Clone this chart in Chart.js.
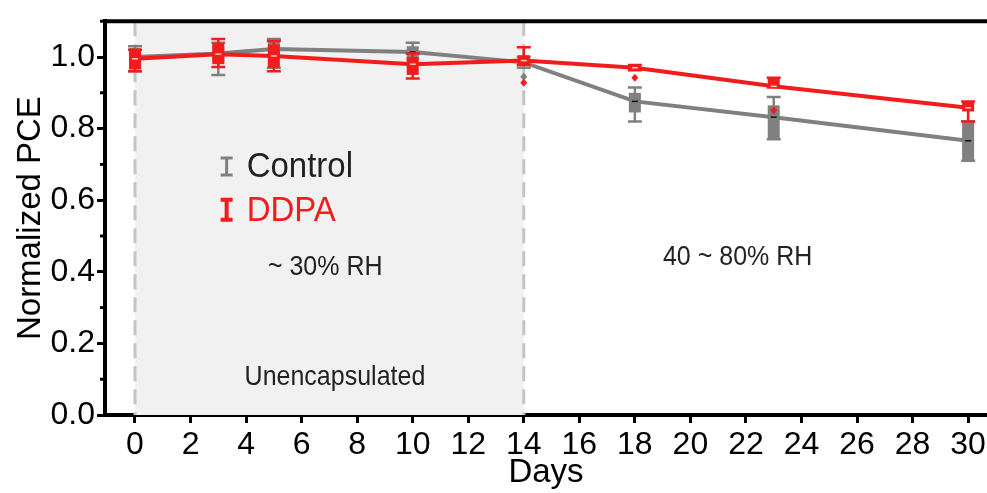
<!DOCTYPE html>
<html>
<head>
<meta charset="utf-8">
<script src="https://cdn.jsdelivr.net/npm/chart.js@4/dist/chart.umd.min.js"></script>
<style>
  body { margin: 0; background: #fff; }
  canvas { display: block; }
</style>
</head>
<body>
<canvas id="pce" width="987" height="493"></canvas>
<script>
// normalized PCE vs days, box + whisker at each measurement day
var days = [0, 3, 5, 10, 14, 18, 23, 30]

var controlMean  = [1.0, 1.01, 1.022, 1.014, 0.985, 0.876, 0.832, 0.766]
var controlBoxLo = [0.975, 0.985, 0.995, 0.99, 0.975, 0.845, 0.77, 0.71]
var controlBoxHi = [1.025, 1.03, 1.045, 1.03, 0.995, 0.90, 0.865, 0.82]
var controlWhLo  = [0.96, 0.95, 0.97, 0.98, 0.97, 0.82, 0.77, 0.71]
var controlWhHi  = [1.03, 1.04, 1.05, 1.04, 1.0, 0.915, 0.888, 0.82]
var controlOut   = [[14, 0.945]]

var ddpaMean  = [0.995, 1.008, 1.003, 0.98, 0.99, 0.97, 0.918, 0.858]
var ddpaBoxLo = [0.965, 0.98, 0.97, 0.95, 0.978, 0.963, 0.915, 0.848]
var ddpaBoxHi = [1.02, 1.04, 1.035, 1.0, 1.005, 0.975, 0.94, 0.876]
var ddpaWhLo  = [0.96, 0.972, 0.96, 0.94, 0.978, 0.963, 0.915, 0.82]
var ddpaWhHi  = [1.02, 1.05, 1.045, 1.01, 1.027, 0.978, 0.942, 0.876]
var ddpaOut   = [[14, 0.928], [18, 0.942], [23, 0.851]]

var seriesNames = ["DDPA", "Control"]
var xTitle = "Days"
var yTitle = "Normalized PCE"
var dryLabel = "~ 30% RH"
var humidLabel = "40 ~ 80% RH"
var encapLabel = "Unencapsulated"
var shadeFrom = 0, shadeTo = 14

var grey = 'rgb(128,128,128)'
var red = 'rgb(242,28,28)'
var fontFam = "'Liberation Sans', Arial, sans-serif"

function pts(ys){ return days.map(function(d,i){ return {x:d, y:ys[i]} }) }

var boxes = [
  {color:red, lo:ddpaBoxLo, hi:ddpaBoxHi, wlo:ddpaWhLo, whi:ddpaWhHi, mean:ddpaMean, out:ddpaOut, tick:'rgba(255,220,220,0.9)'},
  {color:grey, lo:controlBoxLo, hi:controlBoxHi, wlo:controlWhLo, whi:controlWhHi, mean:controlMean, out:controlOut, tick:'#111'}
]

// text drawn a little taller than wide
function tallText(ctx, txt, px, py, sy){
  ctx.save()
  ctx.translate(px, py)
  ctx.scale(1, sy)
  ctx.fillText(txt, 0, 0)
  ctx.restore()
}

const boxPlugin = {
  id: 'boxPlugin',
  beforeDatasetsDraw: function(chart){
    const {ctx, chartArea:a, scales:{x}} = chart
    const x0 = x.getPixelForValue(shadeFrom), x1 = x.getPixelForValue(shadeTo)
    ctx.save()
    ctx.fillStyle = '#f1f1f1'
    ctx.fillRect(x0, a.top, x1 - x0, a.bottom - a.top)
    ctx.strokeStyle = '#c4c4c4'
    ctx.lineWidth = 3
    ctx.setLineDash([15, 8])
    ;[x0, x1].forEach(function(px){
      ctx.beginPath(); ctx.moveTo(px, a.top); ctx.lineTo(px, a.bottom); ctx.stroke()
    })
    ctx.restore()
  },
  afterDatasetDraw: function(chart, args){
    const {ctx, scales:{x, y}} = chart
    const b = boxes[args.index]
    ctx.save()
    ctx.fillStyle = b.color
    ctx.strokeStyle = b.color
    days.forEach(function(d, i){
      const px = x.getPixelForValue(d)
      const yl = y.getPixelForValue(b.lo[i]), yh = y.getPixelForValue(b.hi[i])
      const wl = y.getPixelForValue(b.wlo[i]), wh = y.getPixelForValue(b.whi[i])
      // whiskers
      ctx.lineWidth = 2.5
      ctx.beginPath()
      ctx.moveTo(px, wh); ctx.lineTo(px, wl)
      ctx.moveTo(px - 7, wh); ctx.lineTo(px + 7, wh)
      ctx.moveTo(px - 7, wl); ctx.lineTo(px + 7, wl)
      ctx.stroke()
      // box
      ctx.fillRect(px - 6, yh, 12, Math.max(yl - yh, 3))
      // mean mark
      const ym = y.getPixelForValue(b.mean[i])
      ctx.strokeStyle = b.tick
      ctx.lineWidth = 1.5
      ctx.beginPath(); ctx.moveTo(px - 3, ym); ctx.lineTo(px + 3, ym); ctx.stroke()
      ctx.strokeStyle = b.color
    })
    // outliers
    b.out.forEach(function(o){
      const px = x.getPixelForValue(o[0]), py = y.getPixelForValue(o[1])
      ctx.beginPath()
      ctx.moveTo(px, py - 4); ctx.lineTo(px + 3.5, py); ctx.lineTo(px, py + 4); ctx.lineTo(px - 3.5, py)
      ctx.closePath(); ctx.fill()
    })
    ctx.restore()
  },
  afterDraw: function(chart){
    const {ctx, chartArea:a, scales:{x, y}} = chart
    ctx.save()
    // frame on top
    ctx.strokeStyle = '#000'
    ctx.lineWidth = 4
    ctx.beginPath(); ctx.moveTo(a.left - 2, a.top); ctx.lineTo(chart.width, a.top); ctx.stroke()
    // minor y ticks
    ctx.lineWidth = 3
    for (let v = 0.1; v < 1.1; v += 0.2) {
      const py = y.getPixelForValue(v)
      ctx.beginPath(); ctx.moveTo(a.left - 5, py); ctx.lineTo(a.left, py); ctx.stroke()
    }
    // text inside the plot
    ctx.textAlign = 'center'
    ctx.textBaseline = 'middle'
    ctx.fillStyle = '#222'
    ctx.font = '25px ' + fontFam
    tallText(ctx, dryLabel, x.getPixelForValue(6.85), y.getPixelForValue(0.413), 1.12)
    tallText(ctx, humidLabel, x.getPixelForValue(21.7), y.getPixelForValue(0.44), 1.12)
    tallText(ctx, encapLabel, x.getPixelForValue(7.2), y.getPixelForValue(0.105), 1.12)
    // legend
    const lx = x.getPixelForValue(3.3)
    const rows = [[seriesNames[1], grey, '#222', 0.694, 8.5, 3], [seriesNames[0], red, red, 0.573, 10, 4]]
    rows.forEach(function(r){
      const py = y.getPixelForValue(r[3]), h = r[4]
      ctx.strokeStyle = r[1]
      ctx.lineWidth = r[5]
      ctx.beginPath()
      ctx.moveTo(lx, py - h); ctx.lineTo(lx, py + h)
      ctx.moveTo(lx - 6, py - h); ctx.lineTo(lx + 6, py - h)
      ctx.moveTo(lx - 6, py + h); ctx.lineTo(lx + 6, py + h)
      ctx.stroke()
      ctx.fillStyle = r[2]
      ctx.textAlign = 'left'
      ctx.font = '33px ' + fontFam
      tallText(ctx, r[0], lx + 20, py + 1, 1.08)
    })
    ctx.restore()
  }
}

const axisGrid = {drawOnChartArea:false, drawTicks:true, tickLength:8, tickWidth:3, tickColor:'#000'}

const chart = new Chart(document.getElementById('pce'), {
  type: 'line',
  data: {
    datasets: [
      {label: seriesNames[0], data: pts(ddpaMean), borderColor: red, borderWidth: 4, pointRadius: 0, tension: 0},
      {label: seriesNames[1], data: pts(controlMean), borderColor: grey, borderWidth: 4, pointRadius: 0, tension: 0}
    ]
  },
  options: {
    responsive: false,
    animation: false,
    devicePixelRatio: 1,
    layout: {autoPadding: false, padding: {top: 16, right: 0, left: 0, bottom: 0}},
    plugins: {legend: {display: false}, tooltip: {enabled: false}},
    scales: {
      x: {
        type: 'linear', min: -1.08, max: 30.68,
        grid: axisGrid,
        border: {width: 4, color: '#000'},
        ticks: {stepSize: 2, includeBounds: false, color: '#000', padding: 3, maxRotation: 0,
                font: {family: fontFam, size: 32}},
        title: {display: true, text: xTitle, color: '#000', font: {family: fontFam, size: 33}, padding: {top: 0, bottom: 0}},
        afterFit: function(s){ s.height = 78; s.paddingLeft = 0; s.paddingRight = 0 }
      },
      y: {
        min: 0, max: 1.1,
        grid: axisGrid,
        border: {width: 4, color: '#000'},
        ticks: {stepSize: 0.2, includeBounds: false, color: '#000', padding: 2,
                font: {family: fontFam, size: 32},
                callback: function(v){ return v.toFixed(1) }},
        title: {display: true, text: yTitle, color: '#000', font: {family: fontFam, size: 33}, padding: {top: 11, bottom: 0}},
        afterFit: function(s){ s.width = 105 }
      }
    }
  },
  plugins: [boxPlugin]
})
</script>
</body>
</html>
